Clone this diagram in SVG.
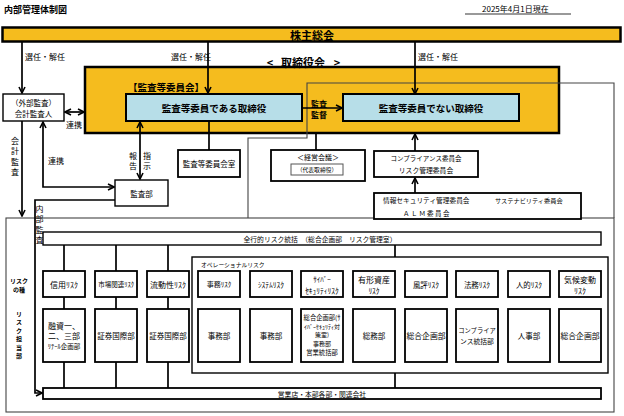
<svg xmlns="http://www.w3.org/2000/svg" width="624" height="416" viewBox="0 0 624 416">
<defs>
<style>
text{font-family:"Noto Sans CJK JP","Noto Sans",sans-serif;fill:#000;dominant-baseline:central;text-anchor:middle}
.b{font-weight:bold}
.st{text-anchor:start}
.box{fill:#fff;stroke:#000;stroke-width:1.8}
.tbox{fill:#fff;stroke:#000;stroke-width:1.4}
.gold{fill:#F5BC1E;stroke:#000;stroke-width:2.5}
.blue{fill:#B7DEE8;stroke:#000;stroke-width:2}
.ln{stroke:#000;stroke-width:1.7;fill:none}
.thin{stroke:#444;stroke-width:1.1;fill:none}
.arr{marker-end:url(#ah)}
.arr2{marker-start:url(#ah);marker-end:url(#ah)}
</style>
<marker id="ah" viewBox="0 0 8 8" refX="7" refY="4" markerWidth="8" markerHeight="8" markerUnits="userSpaceOnUse" orient="auto-start-reverse">
<path d="M1,1 L7,4 L1,7" fill="none" stroke="#000" stroke-width="1.6"/>
</marker>
</defs>
<rect width="624" height="416" fill="#fff"/>

<g id="header">
<text class="b st" x="4" y="9" font-size="9">内部管理体制図</text>
<text class="st" x="482" y="8" font-size="8">2025年4月1日現在</text>
<line x1="465" y1="14" x2="571" y2="14" stroke="#777" stroke-width="1.5"/>
</g>

<g id="risk-frame">
<rect class="thin" x="6" y="218" width="608" height="194"/>
</g>

<g id="kabunushi">
<rect class="gold" x="2.5" y="27.5" width="618" height="14"/>
<text class="b" x="312" y="34.5" font-size="11">株主総会</text>
</g>

<g id="torishimariyakukai">
<rect class="gold" x="85" y="67" width="474" height="66"/>
<text class="b" x="270" y="62" font-size="11">&lt;</text>
<text class="b" x="303" y="62" font-size="11">取締役会</text>
<text class="b" x="337" y="62" font-size="11">&gt;</text>
<text class="b" x="166" y="87" font-size="9.5">【監査等委員会】</text>
</g>

<g id="connectors">
<path class="thin" d="M614,218 V83 H307 V138 H248 V218"/>
<path class="ln arr" d="M22,42 V93"/>
<path class="ln arr" d="M208,42 V93"/>
<path class="ln arr" d="M415,42 V94"/>
<path class="ln arr2" d="M65,112 H84"/>
<path class="ln arr" d="M302,108 H342"/>
<path class="ln" d="M209,121 V150"/>
<path class="ln" d="M316,133 V150"/>
<path class="ln arr" d="M415,151 V134"/>
<path class="ln arr" d="M415,193 V178"/>
<path class="ln arr2" d="M140,122 V179"/>
<path class="ln arr2" d="M43,122 V187 H114"/>
<path class="ln arr" d="M22,121 V216"/>
<path class="ln arr" d="M115,200 H35 V393 H42"/>
<path class="ln" d="M64,245 V271 M116,245 V271 M168,245 V271 M395,245 V257"/>
<path class="ln" d="M64,362 V388 M116,362 V388 M168,362 V388 M395,373 V388"/>
<path class="ln" d="M64,297 V309 M116,297 V309 M168,297 V309 M219,297 V309 M271,297 V309 M322,297 V309 M374,297 V309 M426,297 V309 M477,297 V309 M529,297 V309 M580,297 V309"/>
</g>

<g id="labels">
<text class="st" x="25" y="56" font-size="8">選任・解任</text>
<text class="st" x="171" y="56" font-size="8">選任・解任</text>
<text class="st" x="418" y="56" font-size="8">選任・解任</text>
<text class="st" x="66" y="124" font-size="8">連携</text>
<text class="st" x="48" y="160" font-size="8">連携</text>
<text x="15" y="140" font-size="8">会</text>
<text x="15" y="150.5" font-size="8">計</text>
<text x="15" y="161" font-size="8">監</text>
<text x="15" y="171.5" font-size="8">査</text>
<text x="133" y="155" font-size="8">報</text>
<text x="133" y="165.5" font-size="8">告</text>
<text x="147" y="155" font-size="8">指</text>
<text x="147" y="165.5" font-size="8">示</text>
<text class="b" x="319" y="103" font-size="8">監査</text>
<text class="b" x="319" y="114" font-size="8">監督</text>
<text x="39.5" y="208" font-size="8">内</text>
<text x="39.5" y="218.5" font-size="8">部</text>
<text x="39.5" y="229" font-size="8">監</text>
<text x="39.5" y="239.5" font-size="8">査</text>
<text class="b" x="19" y="280" font-size="6">リスク</text>
<text class="b" x="19" y="289" font-size="6">の種</text>
<text class="b" x="19" y="313" font-size="6">リ</text>
<text class="b" x="19" y="321.5" font-size="6">ス</text>
<text class="b" x="19" y="330" font-size="6">ク</text>
<text class="b" x="19" y="338.5" font-size="6">担</text>
<text class="b" x="19" y="347" font-size="6">当</text>
<text class="b" x="19" y="355.5" font-size="6">部</text>
</g>

<g id="kansa-torishimari">
<rect class="blue" x="126" y="94" width="176" height="27"/>
<text class="b" x="214" y="107.5" font-size="9.5">監査等委員である取締役</text>
</g>
<g id="hikansa-torishimari">
<rect class="blue" x="343" y="94" width="176" height="27"/>
<text class="b" x="431" y="107.5" font-size="9.5">監査等委員でない取締役</text>
</g>

<g id="gaibu-kansa">
<rect class="tbox" x="3" y="94" width="61" height="27"/>
<text x="33.5" y="102" font-size="7.5">（外部監査）</text>
<text x="33.5" y="113" font-size="7.5">会計監査人</text>
</g>

<g id="kansabu">
<rect class="tbox" x="115" y="180" width="53" height="26"/>
<text x="141.5" y="193" font-size="7.5">監査部</text>
</g>

<g id="iinkaishitsu">
<rect class="box" x="178" y="150" width="62" height="27"/>
<text x="209" y="163.5" font-size="7.5">監査等委員会室</text>
</g>

<g id="keiei-kaigi">
<rect class="box" x="271" y="150" width="94" height="31"/>
<text x="318" y="157" font-size="7">＜経営会議＞</text>
<rect x="291" y="164" width="52" height="11" fill="#fff" stroke="#555" stroke-width="1"/>
<text x="317" y="169.5" font-size="5.8">（代表取締役）</text>
</g>

<g id="compliance">
<rect class="box" x="374" y="151" width="104" height="26"/>
<text x="426" y="157.5" font-size="6.5">コンプライアンス委員会</text>
<text x="426" y="170" font-size="6.8">リスク管理委員会</text>
</g>

<g id="iinkai">
<rect class="box" x="374" y="193" width="207" height="26"/>
<text class="st" x="383" y="200" font-size="6.7">情報セキュリティ管理委員会</text>
<text class="st" x="495" y="200" font-size="6.2">サステナビリティ委員会</text>
<text class="st" x="403" y="213" font-size="6.5" letter-spacing="1.5">ＡＬＭ委員会</text>
</g>

<g id="zenko-risk">
<rect class="tbox" x="43" y="232" width="558" height="13"/>
<text x="320" y="238.5" font-size="6.8">全行的リスク統括　（総合企画部　リスク管理室）</text>
</g>

<g id="operational">
<rect class="tbox" x="192" y="257" width="416" height="116"/>
<text class="st" x="201" y="264" font-size="5.8">オペレーショナルリスク</text>
</g>

<g id="risk-shinyo">
<rect class="box" x="43" y="271" width="42" height="26"/>
<text x="64" y="284" font-size="8">信用ﾘｽｸ</text>
</g>
<g id="risk-shijo">
<rect class="box" x="95" y="271" width="42" height="26"/>
<text x="116" y="284" font-size="6.5">市場関連ﾘｽｸ</text>
</g>
<g id="risk-ryudo">
<rect class="box" x="147" y="271" width="42" height="26"/>
<text x="168" y="284" font-size="8">流動性ﾘｽｸ</text>
</g>
<g id="risk-jimu">
<rect class="box" x="198" y="271" width="42" height="26"/>
<text x="219" y="284" font-size="7">事務ﾘｽｸ</text>
</g>
<g id="risk-system">
<rect class="box" x="250" y="271" width="42" height="26"/>
<text x="271" y="284" font-size="7.5">ｼｽﾃﾑﾘｽｸ</text>
</g>
<g id="risk-cyber">
<rect class="box" x="301" y="271" width="42" height="26"/>
<text x="322" y="279" font-size="7">ｻｲﾊﾞｰ</text>
<text x="322" y="290" font-size="7.5">ｾｷｭﾘﾃｨﾘｽｸ</text>
</g>
<g id="risk-yukei">
<rect class="box" x="353" y="271" width="42" height="26"/>
<text x="374" y="279" font-size="8">有形資産</text>
<text x="374" y="290" font-size="7.5">ﾘｽｸ</text>
</g>
<g id="risk-fuhyo">
<rect class="box" x="405" y="271" width="42" height="26"/>
<text x="426" y="284" font-size="7.5">風評ﾘｽｸ</text>
</g>
<g id="risk-homu">
<rect class="box" x="456" y="271" width="42" height="26"/>
<text x="477" y="284" font-size="7.5">法務ﾘｽｸ</text>
</g>
<g id="risk-jinteki">
<rect class="box" x="508" y="271" width="42" height="26"/>
<text x="529" y="284" font-size="7.5">人的ﾘｽｸ</text>
</g>
<g id="risk-kiko">
<rect class="box" x="559" y="271" width="42" height="26"/>
<text x="580" y="279" font-size="8">気候変動</text>
<text x="580" y="290" font-size="8">ﾘｽｸ</text>
</g>

<g id="dept-yushi">
<rect class="box" x="43" y="309" width="42" height="53"/>
<text x="64" y="325" font-size="8">融資一、</text>
<text x="64" y="335" font-size="8">二、三部</text>
<text x="64" y="345.5" font-size="6.5">ﾘﾃｰﾙ企画部</text>
</g>
<g id="dept-shoken1">
<rect class="box" x="95" y="309" width="42" height="53"/>
<text x="116" y="335.5" font-size="7.5">証券国際部</text>
</g>
<g id="dept-shoken2">
<rect class="box" x="147" y="309" width="42" height="53"/>
<text x="168" y="335.5" font-size="7.5">証券国際部</text>
</g>
<g id="dept-jimu1">
<rect class="box" x="198" y="309" width="42" height="53"/>
<text x="219" y="335.5" font-size="7.5">事務部</text>
</g>
<g id="dept-jimu2">
<rect class="box" x="250" y="309" width="42" height="53"/>
<text x="271" y="335.5" font-size="7.5">事務部</text>
</g>
<g id="dept-cyber">
<rect class="box" x="301" y="309" width="42" height="53"/>
<text x="322" y="317" font-size="6.3">総合企画部(ｻ</text>
<text x="322" y="326" font-size="6">ｲﾊﾞｰｾｷｭﾘﾃｨ対</text>
<text x="322" y="334.5" font-size="6">策室)</text>
<text x="322" y="343.5" font-size="6">事務部</text>
<text x="322" y="352.5" font-size="6.3">営業統括部</text>
</g>
<g id="dept-somu">
<rect class="box" x="353" y="309" width="42" height="53"/>
<text x="374" y="335.5" font-size="7.5">総務部</text>
</g>
<g id="dept-kikaku1">
<rect class="box" x="405" y="309" width="42" height="53"/>
<text x="426" y="335.5" font-size="7.8">総合企画部</text>
</g>
<g id="dept-compliance">
<rect class="box" x="456" y="309" width="42" height="53"/>
<text x="477" y="330" font-size="6.3">コンプライア</text>
<text x="477" y="341" font-size="6.8">ンス統括部</text>
</g>
<g id="dept-jinji">
<rect class="box" x="508" y="309" width="42" height="53"/>
<text x="529" y="335.5" font-size="7.5">人事部</text>
</g>
<g id="dept-kikaku2">
<rect class="box" x="559" y="309" width="42" height="53"/>
<text x="580" y="335.5" font-size="7.8">総合企画部</text>
</g>

<g id="eigyoten">
<rect class="box" x="43" y="388" width="558" height="11"/>
<text x="322" y="393.5" font-size="6.8">営業店・本部各部・関連会社</text>
</g>
</svg>
